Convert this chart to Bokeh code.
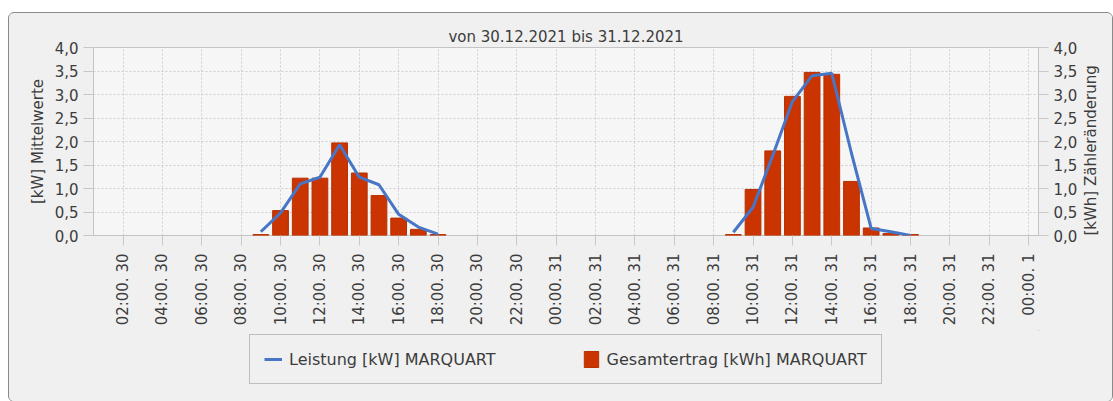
from bokeh.plotting import figure
from bokeh.layouts import column
from bokeh.models import (Range1d, LinearAxis, FixedTicker, CustomJSTickFormatter,
                          Legend, LegendItem)
from bokeh.embed import file_html
from bokeh.resources import INLINE
from math import pi

# ---------------- data ----------------
title_text = "von 30.12.2021 bis 31.12.2021"
left_label = "[kW] Mittelwerte"
right_label = "[kWh] Zähleränderung"
line_name = "Leistung [kW] MARQUART"
bar_name = "Gesamtertrag [kWh] MARQUART"

# x in hours since 30.12.2021 00:00
tick_hours = [2, 4, 6, 8, 10, 12, 14, 16, 18, 20, 22, 24,
              26, 28, 30, 32, 34, 36, 38, 40, 42, 44, 46, 48]
tick_labels = ["02:00. 30", "04:00. 30", "06:00. 30", "08:00. 30", "10:00. 30", "12:00. 30",
               "14:00. 30", "16:00. 30", "18:00. 30", "20:00. 30", "22:00. 30", "00:00. 31",
               "02:00. 31", "04:00. 31", "06:00. 31", "08:00. 31", "10:00. 31", "12:00. 31",
               "14:00. 31", "16:00. 31", "18:00. 31", "20:00. 31", "22:00. 31", "00:00. 1"]

bar_hours = [9, 10, 11, 12, 13, 14, 15, 16, 17, 18,
             33, 34, 35, 36, 37, 38, 39, 40, 41, 42]
ertrag_kwh = [0.02, 0.53, 1.22, 1.22, 1.97, 1.33, 0.85, 0.37, 0.13, 0.02,
              0.02, 0.98, 1.80, 2.96, 3.47, 3.43, 1.15, 0.16, 0.04, 0.02]

leistung_hours_d1 = [9, 10, 11, 12, 13, 14, 15, 16, 17, 18]
leistung_kw_d1 = [0.08, 0.48, 1.10, 1.24, 1.93, 1.24, 1.08, 0.45, 0.18, 0.03]
leistung_hours_d2 = [33, 34, 35, 36, 37, 38, 39, 40, 41, 42]
leistung_kw_d2 = [0.07, 0.60, 1.70, 2.85, 3.40, 3.45, 1.75, 0.15, 0.08, 0.00]

y_ticks = [0, 0.5, 1.0, 1.5, 2.0, 2.5, 3.0, 3.5, 4.0]

# ---------------- styling ----------------
FONT = "DejaVu Sans"
TXT = "#3c3c3c"
PANEL = "#f0f0f0"
GRID = "#cfcfcf"
BAR = "#c93400"
LINE = "#4776c6"
W = 1103

p = figure(width=W, height=317, x_range=Range1d(0.5, 48.5), y_range=Range1d(0, 4),
           output_backend="svg", toolbar_location=None,
           min_border_left=84, min_border_right=69, min_border_top=34, min_border_bottom=95)
p.title.text = title_text
p.title.align = "center"
p.title.text_font = FONT
p.title.text_font_size = "15px"
p.title.text_font_style = "normal"
p.title.text_color = TXT
p.title.standoff = 4

p.background_fill_color = "#f6f6f6"
p.border_fill_color = PANEL
p.outline_line_color = "#c4c4c4"

p.extra_y_ranges = {"kwh": Range1d(0, 4)}
right_axis = LinearAxis(y_range_name="kwh", axis_label=right_label)
p.add_layout(right_axis, "right")

fmt = CustomJSTickFormatter(code="return tick.toFixed(1).replace('.', ',');")
for ax in p.yaxis:
    ax.ticker = FixedTicker(ticks=y_ticks)
    ax.formatter = fmt
    ax.axis_line_color = None
    ax.major_tick_line_color = "#c8c8c8"
    ax.major_tick_out = 10
    ax.major_tick_in = 0
    ax.minor_tick_line_color = None
    ax.major_label_text_font = FONT
    ax.major_label_text_font_size = "15px"
    ax.major_label_text_color = TXT
    ax.major_label_standoff = 5
    ax.axis_label_text_font = FONT
    ax.axis_label_text_font_size = "15px"
    ax.axis_label_text_font_style = "normal"
    ax.axis_label_text_color = TXT
    ax.axis_label_standoff = 5
p.yaxis[0].axis_label = left_label
right_axis.axis_label_standoff = 11
_props = LinearAxis.properties()
if "axis_label_orientation" in _props and "axis_label_align" in _props:
    # read upwards like the reference; anchor the label at the lower end of the axis
    right_axis.axis_label_orientation = pi / 2
    right_axis.axis_label_align = "start"

xa = p.xaxis[0]
xa.ticker = FixedTicker(ticks=tick_hours)
xa.major_label_overrides = {h: lab for h, lab in zip(tick_hours, tick_labels)}
xa.major_label_orientation = pi / 2
xa.axis_line_color = None
xa.major_tick_line_color = "#c8c8c8"
xa.major_tick_out = 10
xa.major_tick_in = 0
xa.minor_tick_line_color = None
xa.major_label_text_font = FONT
xa.major_label_text_font_size = "15px"
xa.major_label_text_color = TXT
xa.major_label_standoff = 8

p.xgrid.grid_line_color = GRID
p.xgrid.grid_line_dash = "2 2"
p.ygrid.grid_line_color = GRID
p.ygrid.grid_line_dash = "2 2"
p.ygrid.ticker = FixedTicker(ticks=y_ticks)

bars = p.vbar(x=bar_hours, top=ertrag_kwh, width=0.8, bottom=0,
              fill_color=BAR, line_color="#b83000", line_width=1, y_range_name="kwh")
p.line(leistung_hours_d1, leistung_kw_d1, line_color=LINE, line_width=3)
p.line(leistung_hours_d2, leistung_kw_d2, line_color=LINE, line_width=3)

# ---------------- legend strip ----------------
lg = figure(width=W, height=71, x_range=Range1d(0, 1), y_range=Range1d(0, 1),
            output_backend="svg", toolbar_location=None,
            x_axis_location=None, y_axis_location=None,
            min_border_left=0, min_border_right=0, min_border_top=0, min_border_bottom=0)
lg.grid.visible = False
lg.outline_line_color = None
lg.background_fill_color = PANEL
lg.border_fill_color = PANEL
# legend proxies sit outside the visible range of this strip
lg_line = lg.line(x=[5, 6], y=[5, 5], line_color=LINE, line_width=3)
lg_bar = lg.vbar(x=[5], top=[6], bottom=[5], width=0.8, fill_color=BAR,
                 line_color="#b83000", line_width=1)

legend = Legend(items=[LegendItem(label=line_name, renderers=[lg_line]),
                       LegendItem(label=bar_name, renderers=[lg_bar])],
                orientation="horizontal", location=(156, 17))
legend.label_text_font = FONT
legend.label_text_font_size = "16px"
legend.label_text_color = TXT
legend.glyph_width = 18
legend.glyph_height = 20
legend.label_height = 20
legend.padding = 14
legend.spacing = 86
legend.label_standoff = 7
legend.margin = 0
legend.border_line_color = "#8c8c8c"
legend.background_fill_color = PANEL
legend.background_fill_alpha = 1
lg.add_layout(legend, "center")

layout = column(p, lg, spacing=0)
layout.margin = (12, 0, 0, 8)
layout.styles = {"border": "1px solid #8a8a8a", "border-radius": "6px",
                 "background-color": PANEL, "overflow": "hidden"}
open("out.html", "w").write(file_html(layout, INLINE))
